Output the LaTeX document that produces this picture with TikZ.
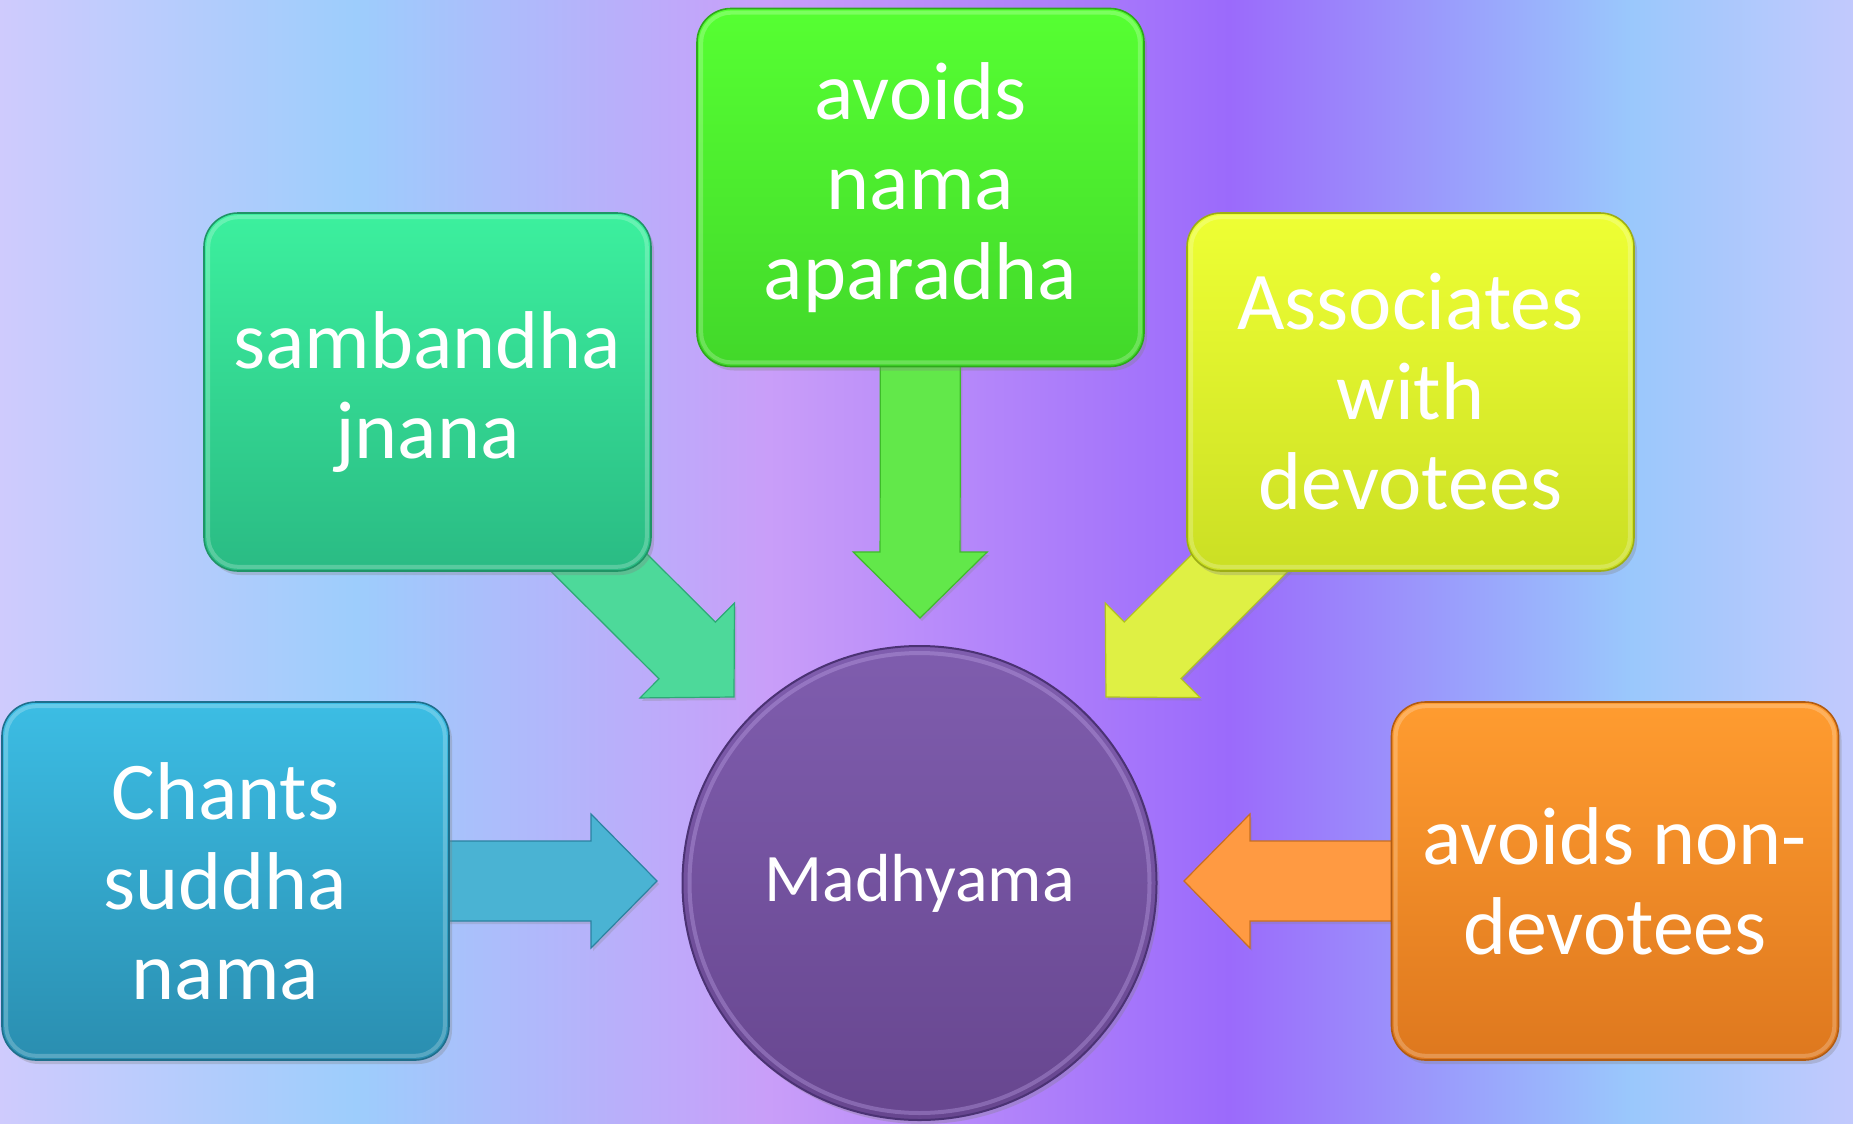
\documentclass[tikz,border=0pt]{standalone}
\usepackage{fontspec}
\setmainfont{Carlito}
\usetikzlibrary{calc,shadows}

\definecolor{bgA}{HTML}{CFCBFD}
\definecolor{bgB}{HTML}{9DCDFC}
\definecolor{bgC}{HTML}{C99EF9}
\definecolor{bgD}{HTML}{9B6AFB}
\definecolor{bgE}{HTML}{9AC8FC}
\definecolor{bgF}{HTML}{C2C9FD}

\definecolor{grT}{HTML}{56FF32}
\definecolor{grB}{HTML}{42D82A}
\definecolor{grE}{HTML}{2FA81C}
\definecolor{grA}{HTML}{62E84A}

\definecolor{tlT}{HTML}{3CF09E}
\definecolor{tlB}{HTML}{2ABB84}
\definecolor{tlE}{HTML}{1F9466}
\definecolor{tlA}{HTML}{4DD99A}

\definecolor{ylT}{HTML}{EEFF34}
\definecolor{ylB}{HTML}{CBDF24}
\definecolor{ylE}{HTML}{9DAE14}
\definecolor{ylA}{HTML}{DFF044}

\definecolor{blT}{HTML}{3CBDE4}
\definecolor{blB}{HTML}{2A8EB0}
\definecolor{blE}{HTML}{1E6F8C}
\definecolor{blA}{HTML}{4AB3D3}

\definecolor{orT}{HTML}{FF9C30}
\definecolor{orB}{HTML}{DE781E}
\definecolor{orE}{HTML}{B25C12}
\definecolor{orA}{HTML}{FF9A42}

\definecolor{puT}{HTML}{7F5DAE}
\definecolor{puB}{HTML}{67468F}
\definecolor{puE}{HTML}{4B3274}
\definecolor{puH}{HTML}{C3A8EC}

\tikzset{
  box/.style={rounded corners=17pt, minimum width=223.5pt, minimum height=179pt,
    align=center, text=white, font=\fontsize{41}{45}\selectfont, inner sep=0pt,
    line width=0.8pt,
    drop shadow={shadow xshift=1.5pt, shadow yshift=-2pt, opacity=0.3}},
  hub/.style={circle, minimum size=237pt, inner sep=0pt, text=white,
    font=\fontsize{34}{37}\selectfont, line width=1pt,
    drop shadow={shadow xshift=1.5pt, shadow yshift=-2pt, opacity=0.3}},
  barrow/.style={line width=0.6pt, line join=miter}
}

% block arrow from #1 (start) to #2 (tip), fill #3, edge #4
\newcommand\blockarrow[4]{%
  \coordinate (ba-B) at ($(#2)!33pt!(#1)$);
  \path[barrow, fill=#3, draw=#4,
        drop shadow={shadow xshift=1pt, shadow yshift=-1.5pt, opacity=0.25}]
    ($(#1)!20pt!90:(#2)$) -- ($(ba-B)!20pt!-90:(#1)$) -- ($(ba-B)!33.5pt!-90:(#1)$)
    -- (#2) -- ($(ba-B)!33.5pt!90:(#1)$) -- ($(ba-B)!20pt!90:(#1)$)
    -- ($(#1)!20pt!-90:(#2)$) -- cycle;
}

\begin{document}
\begin{tikzpicture}[x=0.5pt,y=-0.5pt]
\useasboundingbox (0,0) rectangle (1853,1124);

% background
\shade[left color=bgA, right color=bgB] (0,0) rectangle (356,1124);
\shade[left color=bgB, right color=bgC] (355,0) rectangle (769,1124);
\shade[left color=bgC, right color=bgD] (768,0) rectangle (1230,1124);
\shade[left color=bgD, right color=bgE] (1229,0) rectangle (1632,1124);
\shade[left color=bgE, right color=bgF] (1631,0) rectangle (1853,1124);

% anchor points for nodes
\coordinate (pTop) at (920.5,187.5);
\coordinate (pSam) at (427.5,392);
\coordinate (pAss) at (1410.5,392);
\coordinate (pCha) at (225.5,881);
\coordinate (pNon) at (1615,881);

% arrow tips
\coordinate (tTop) at (920,618);
\coordinate (tSam) at (734,697);
\coordinate (tAss) at (1106,697);
\coordinate (tCha) at (657,881);
\coordinate (tNon) at (1184,881);

% arrows (under the boxes)
\blockarrow{pTop}{tTop}{grA}{grE!70!grA}
\blockarrow{pSam}{tSam}{tlA}{tlE!70!tlA}
\blockarrow{pAss}{tAss}{ylA}{ylE!70!ylA}
\blockarrow{pCha}{tCha}{blA}{blE!70!blA}
\blockarrow{pNon}{tNon}{orA}{orE!70!orA}

% boxes
\node[box, top color=grT, bottom color=grB, draw=grE] (top) at (pTop) {avoids\\nama\\aparadha};
\node[box, top color=tlT, bottom color=tlB, draw=tlE] (sam) at (pSam) {sambandha\\jnana};
\node[box, top color=ylT, bottom color=ylB, draw=ylE] (ass) at (pAss) {Associates\\with\\devotees};
\node[box, top color=blT, bottom color=blB, draw=blE] (cha) at (pCha) {Chants\\suddha\\nama};
\node[box, top color=orT, bottom color=orB, draw=orE] (non) at (pNon) {avoids non-\\devotees};

% bevel highlights
\foreach \n in {top,sam,ass,cha,non}{
  \draw[white, opacity=0.22, line width=2pt, rounded corners=15pt]
    ($(\n.south west)+(5,-5)$) rectangle ($(\n.north east)+(-5,5)$);
}

% hub
\node[hub, top color=puT, bottom color=puB, draw=puE] (mid) at (919.5,883) {Madhyama};
\draw[puH, opacity=0.35, line width=2pt] (mid.center) circle[radius=115pt];
\end{tikzpicture}
\end{document}
